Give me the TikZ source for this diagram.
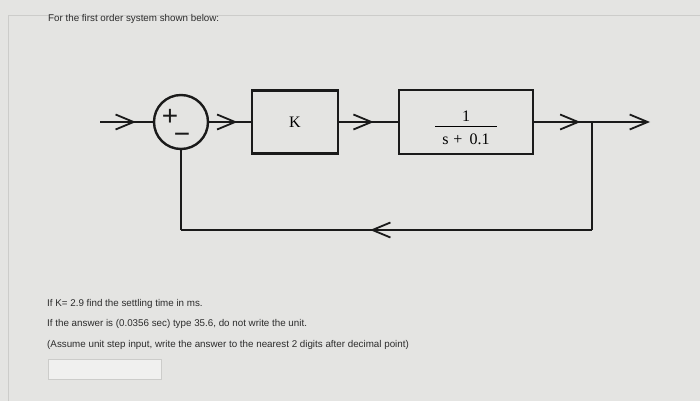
\documentclass[tikz,border=0pt]{standalone}
\usepackage{fontspec}
\setmainfont{Liberation Serif}
\newfontfamily\uisans{Liberation Sans}
\usetikzlibrary{arrows.meta,calc,decorations.markings}
\definecolor{screen}{RGB}{228,228,226}
\definecolor{ink}{RGB}{26,26,26}
\definecolor{txt}{RGB}{44,44,44}
\definecolor{frame}{RGB}{204,204,202}

\begin{document}
\begin{tikzpicture}[
  x=1pt, y=-1pt,
  >={Straight Barb[length=18pt,width=15pt]},
  blk/.style={draw=ink, line width=2.6pt, minimum width=#1, minimum height=63pt,
    inner sep=0pt, font=\fontsize{16}{18}\selectfont},
  sumjn/.style={draw=ink, circle, line width=2.4pt, minimum size=54pt, inner sep=0pt},
  sgn/.style={inner sep=0pt, text=ink, font=\uisans\fontsize{28}{28}\selectfont},
  sig/.style={draw=ink, color=ink, line width=1.8pt},
  midarr/.style={sig, postaction={decorate},
    decoration={markings, mark=at position #1 with {\arrow{>}}}},
  qtext/.style={font=\uisans\fontsize{9.8}{11}\selectfont, text=txt,
    anchor=base west, inner sep=0pt},
  ansbox/.style={draw=frame, fill=white!45!screen, line width=0.8pt,
    minimum width=113pt, minimum height=20pt},
]
  \fill[screen] (0,0) rectangle (700,401);
  \useasboundingbox (0,0) rectangle (700,401);
  \draw[frame, line width=1pt] (8,401) -- (8,16) -- (700,16);

  \node[qtext] (intro) at (48,22) {For the first order system shown below:};

  % loop
  \coordinate (in) at (100,122);
  \node[sumjn] (sum) at (181,122) {};
  \node[sgn] (plus)  at ($(sum)+(-11,-5)$) {+};
  \node[sgn] (minus) at ($(sum)+(1,16)$) {\char"2212};
  \node[blk=86pt] (k) at (295,122) {K};
  \node[blk=134pt, minimum height=64pt] (plant) at (466,122) {};
  \node[inner sep=0pt, font=\fontsize{16}{18}\selectfont] (gain) at ($(plant)+(0,7)$)
    {\begin{tabular}{@{}c@{}}1\\[-12pt]\rule{62pt}{1.6pt}\\[-1.2pt]s\hspace{0.3em}+\hspace{0.45em}0.1\end{tabular}};
  \coordinate (br)  at (592,122);
  \coordinate (out) at (650,122);
  \coordinate (fb)  at (592,230);
  \coordinate (fbl) at (sum |- fb);

  \draw[midarr=0.68] (in) -- (sum.west);
  \draw[midarr=0.68] (sum.east) -- (k.west);
  \draw[midarr=0.59] (k.east) -- (plant.west);
  \draw[midarr=0.80] (plant.east) -- (br);
  \draw[sig, ->] (br) -- (out);
  \draw[sig] (br) -- (fb);
  \draw[midarr=0.54] (fb) -- (fbl);
  \draw[sig] (fbl) -- (sum.south);

  \node[qtext] (q1) at (47,306) {If K= 2.9 find the settling time in ms.};
  \node[qtext] (q2) at (47,326) {If the answer is (0.0356 sec) type 35.6, do not write the unit.};
  \node[qtext] (q3) at (47,347) {(Assume unit step input, write the answer to the nearest 2 digits after decimal point)};
  \node[ansbox] (ans) at (104.5,369) {};
\end{tikzpicture}
\end{document}
